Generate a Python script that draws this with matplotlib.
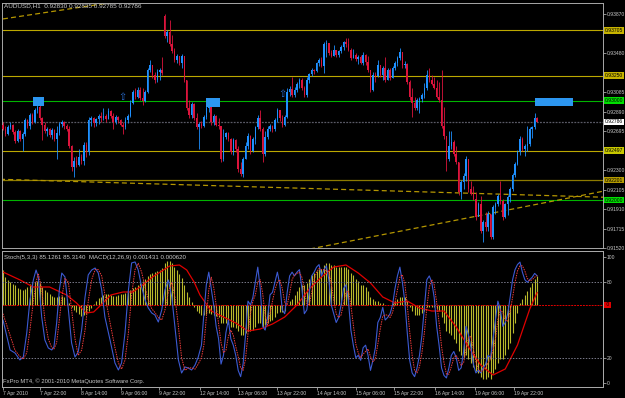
import numpy as np
import matplotlib.pyplot as plt
from matplotlib.patches import Rectangle
from matplotlib.transforms import blended_transform_factory

plt.rcParams['font.family'] = ['Liberation Sans', 'DejaVu Sans']

# AUDUSD H1, bar 0 = 7 Apr 2010 07:00
close = [
    0.9271, 0.9266, 0.9273, 0.9276, 0.9268, 0.9259, 0.9269, 0.9261, 0.9266, 0.9281,
    0.9274, 0.9286, 0.9279, 0.9291, 0.9294, 0.9283, 0.9276, 0.9269, 0.9271, 0.9265,
    0.9270, 0.9261, 0.9267, 0.9277, 0.9279, 0.9274, 0.9271, 0.9254, 0.9233, 0.9239,
    0.9235, 0.9243, 0.9239, 0.9255, 0.9248, 0.9281, 0.9283, 0.9278, 0.9282, 0.9285,
    0.9283, 0.9285, 0.9282, 0.9290, 0.9285, 0.9279, 0.9284, 0.9281, 0.9276, 0.9273,
    0.9281, 0.9285, 0.9298, 0.9309, 0.9304, 0.9311, 0.9303, 0.9300, 0.9309, 0.9331,
    0.9336, 0.9326, 0.9321, 0.9329, 0.9331, 0.9328, 0.9365, 0.9369, 0.9357, 0.9350,
    0.9341, 0.9345, 0.9338, 0.9345, 0.9321, 0.9293, 0.9286, 0.9297, 0.9283, 0.9273,
    0.9277, 0.9274, 0.9284, 0.9293, 0.9297, 0.9279, 0.9285, 0.9276, 0.9274, 0.9241,
    0.9263, 0.9267, 0.9261, 0.9248, 0.9260, 0.9251, 0.9231, 0.9226, 0.9241, 0.9254,
    0.9264, 0.9249, 0.9261, 0.9273, 0.9283, 0.9271, 0.9246, 0.9263, 0.9271, 0.9275,
    0.9271, 0.9281, 0.9291, 0.9283, 0.9276, 0.9284, 0.9309, 0.9312, 0.9306, 0.9311,
    0.9317, 0.9321, 0.9313, 0.9306, 0.9321, 0.9327, 0.9331, 0.9330, 0.9338, 0.9341,
    0.9335, 0.9357, 0.9358, 0.9348, 0.9345, 0.9351, 0.9346, 0.9350, 0.9354, 0.9359,
    0.9357, 0.9351, 0.9343, 0.9346, 0.9342, 0.9344, 0.9338, 0.9346, 0.9339, 0.9331,
    0.9311, 0.9326, 0.9325, 0.9336, 0.9326, 0.9333, 0.9321, 0.9331, 0.9323, 0.9333,
    0.9338, 0.9343, 0.9349, 0.9336, 0.9337, 0.9319, 0.9304, 0.9298, 0.9293, 0.9301,
    0.9302, 0.9306, 0.9313, 0.9326, 0.9321, 0.9317, 0.9313, 0.9304, 0.9301, 0.9274,
    0.9264, 0.9241, 0.9254, 0.9258, 0.9246, 0.9238, 0.9208, 0.9218, 0.9224, 0.9241,
    0.9211, 0.9206, 0.9201, 0.9183, 0.9196, 0.9169, 0.9178, 0.9173, 0.9186, 0.9163,
    0.9193, 0.9196, 0.9204, 0.9199, 0.9183, 0.9196, 0.9203, 0.9211, 0.9225, 0.9236,
    0.9248, 0.9261, 0.9251, 0.9254, 0.9256, 0.9271, 0.9273, 0.92830, 0.92786,
]
high = [
    0.9279, 0.9274, 0.9276, 0.9279, 0.9277, 0.9270, 0.9271, 0.9270, 0.9268, 0.9283,
    0.9282, 0.9288, 0.9288, 0.9293, 0.9296, 0.9296, 0.9284, 0.9279, 0.9273, 0.9272,
    0.9272, 0.9271, 0.9275, 0.9279, 0.9281, 0.9280, 0.9277, 0.9274, 0.9255, 0.9243,
    0.9244, 0.9251, 0.9246, 0.9258, 0.9258, 0.9284, 0.9285, 0.9284, 0.9283, 0.9287,
    0.9289, 0.9293, 0.9287, 0.9293, 0.9291, 0.9288, 0.9286, 0.9285, 0.9282, 0.9279,
    0.9284, 0.9287, 0.9301, 0.9311, 0.9313, 0.9314, 0.9314, 0.9313, 0.9311, 0.9333,
    0.9341, 0.9331, 0.9329, 0.9332, 0.9333, 0.9344, 0.9387, 0.9371, 0.9381, 0.9366,
    0.9353, 0.9347, 0.9344, 0.9347, 0.9345, 0.9321, 0.9301, 0.9299, 0.9298, 0.9288,
    0.9279, 0.9280, 0.9286, 0.9295, 0.9298, 0.9298, 0.9287, 0.9286, 0.9283, 0.9275,
    0.9271, 0.9268, 0.9268, 0.9262, 0.9262, 0.9261, 0.9254, 0.9238, 0.9243, 0.9258,
    0.9267, 0.9265, 0.9263, 0.9275, 0.9286, 0.9291, 0.9273, 0.9269, 0.9274, 0.9277,
    0.9276, 0.9283, 0.9293, 0.9291, 0.9286, 0.9286, 0.9313, 0.9315, 0.9324, 0.9314,
    0.9319, 0.9323, 0.9323, 0.9315, 0.9324, 0.9328, 0.9333, 0.9332, 0.9339, 0.9343,
    0.9344, 0.9359, 0.9361, 0.9358, 0.9351, 0.9356, 0.9351, 0.9351, 0.9356, 0.9360,
    0.9363, 0.9363, 0.9353, 0.9352, 0.9348, 0.9346, 0.9346, 0.9349, 0.9347, 0.9345,
    0.9331, 0.9329, 0.9329, 0.9341, 0.9336, 0.9335, 0.9344, 0.9333, 0.9333, 0.9335,
    0.9340, 0.9345, 0.9353, 0.9349, 0.9340, 0.9338, 0.9321, 0.9313, 0.9304, 0.9303,
    0.9304, 0.9308, 0.9318, 0.9331, 0.9333, 0.9326, 0.9324, 0.9321, 0.9319, 0.9331,
    0.9294, 0.9264, 0.9269, 0.9269, 0.9260, 0.9254, 0.9238, 0.9220, 0.9227, 0.9244,
    0.9241, 0.9219, 0.9214, 0.9208, 0.9198, 0.9204, 0.9180, 0.9188, 0.9189, 0.9186,
    0.9195, 0.9198, 0.9206, 0.9219, 0.9201, 0.9197, 0.9205, 0.9213, 0.9227, 0.9238,
    0.9250, 0.9264, 0.9263, 0.9256, 0.9274, 0.9273, 0.9275, 0.9288, 0.92835,
]
low = [
    0.9270, 0.9264, 0.9265, 0.9271, 0.9266, 0.9257, 0.9258, 0.9259, 0.9249, 0.9264,
    0.9272, 0.9271, 0.9277, 0.9278, 0.9288, 0.9281, 0.9260, 0.9267, 0.9264, 0.9263,
    0.9261, 0.9259, 0.9241, 0.9265, 0.9273, 0.9271, 0.9269, 0.9252, 0.9229, 0.9223,
    0.9233, 0.9234, 0.9236, 0.9235, 0.9243, 0.9245, 0.9275, 0.9273, 0.9274, 0.9277,
    0.9279, 0.9281, 0.9279, 0.9282, 0.9283, 0.9271, 0.9277, 0.9278, 0.9274, 0.9266,
    0.9271, 0.9278, 0.9284, 0.9297, 0.9302, 0.9303, 0.9301, 0.9296, 0.9299, 0.9308,
    0.9329, 0.9323, 0.9318, 0.9319, 0.9321, 0.9326, 0.9363, 0.9359, 0.9355, 0.9348,
    0.9339, 0.9338, 0.9336, 0.9333, 0.9319, 0.9291, 0.9283, 0.9283, 0.9281, 0.9271,
    0.9251, 0.9272, 0.9273, 0.9282, 0.9289, 0.9276, 0.9276, 0.9274, 0.9271, 0.9238,
    0.9239, 0.9261, 0.9259, 0.9246, 0.9245, 0.9248, 0.9228, 0.9224, 0.9223, 0.9241,
    0.9251, 0.9246, 0.9248, 0.9256, 0.9271, 0.9269, 0.9238, 0.9244, 0.9261, 0.9269,
    0.9268, 0.9269, 0.9279, 0.9280, 0.9273, 0.9275, 0.9283, 0.9305, 0.9304, 0.9304,
    0.9309, 0.9313, 0.9311, 0.9304, 0.9304, 0.9318, 0.9325, 0.9327, 0.9329, 0.9335,
    0.9334, 0.9328, 0.9344, 0.9346, 0.9344, 0.9345, 0.9344, 0.9344, 0.9348, 0.9351,
    0.9354, 0.9350, 0.9341, 0.9343, 0.9340, 0.9337, 0.9337, 0.9336, 0.9336, 0.9329,
    0.9309, 0.9310, 0.9319, 0.9324, 0.9324, 0.9321, 0.9319, 0.9321, 0.9321, 0.9323,
    0.9331, 0.9335, 0.9341, 0.9333, 0.9333, 0.9317, 0.9301, 0.9284, 0.9291, 0.9291,
    0.9288, 0.9299, 0.9303, 0.9311, 0.9319, 0.9316, 0.9312, 0.9303, 0.9299, 0.9272,
    0.9261, 0.9229, 0.9239, 0.9251, 0.9244, 0.9236, 0.9205, 0.9201, 0.9211, 0.9219,
    0.9208, 0.9205, 0.9200, 0.9180, 0.9186, 0.9167, 0.9158, 0.9169, 0.9169, 0.9161,
    0.9161, 0.9186, 0.9194, 0.9196, 0.9180, 0.9182, 0.9185, 0.9198, 0.9209, 0.9223,
    0.9235, 0.9245, 0.9249, 0.9244, 0.9249, 0.9254, 0.9262, 0.9271, 0.92785,
]
first_open = 0.9276
gap_bar, gap_open = 66, 0.9385      # monday 12 Apr open

# MACD(12,26,9) main (histogram), one value per bar
macd_main = [
    0.00175, 0.0014, 0.00125, 0.00115, 0.00105, 0.0010, 0.00085, 0.0008, 0.00075, 0.0008,
    0.0009, 0.00105, 0.0011, 0.00115, 0.0012, 0.0011, 0.0009, 0.00075, 0.00065, 0.00055,
    0.00045, 0.0004, 0.0004, 0.00045, 0.00045, 0.0004, 0.0003, 0.0001, -0.0001, -0.00025,
    -0.00035, -0.00045, -0.00055, -0.0005, -0.00045, -0.0003, -0.00015, 0.00005, 0.0002, 0.00035,
    0.0004, 0.0005, 0.00055, 0.00055, 0.0005, 0.00045, 0.00045, 0.0005, 0.00055, 0.00055,
    0.0006, 0.00065, 0.00075, 0.00085, 0.0009, 0.001, 0.0011, 0.0012, 0.0013, 0.00145,
    0.00155, 0.0016, 0.00165, 0.0017, 0.00175, 0.00185, 0.0021, 0.0022, 0.0022, 0.0021,
    0.0019, 0.00175, 0.00155, 0.00135, 0.001, 0.00065, 0.0004, 0.00015, -0.0001, -0.0003,
    -0.0004, -0.0005, -0.0005, -0.00045, -0.0004, -0.00045, -0.0005, -0.00055, -0.0006, -0.0009,
    -0.0009, -0.0009, -0.00095, -0.0011, -0.0011, -0.00115, -0.0013, -0.0015, -0.0015, -0.0014,
    -0.0013, -0.0013, -0.00125, -0.0011, -0.0009, -0.0009, -0.0011, -0.001, -0.0009, -0.0008,
    -0.00075, -0.0006, -0.0004, -0.00035, -0.00035, -0.0003, 0.0, 0.0002, 0.0003, 0.0005,
    0.0007, 0.0009, 0.001, 0.001, 0.0011, 0.0013, 0.0015, 0.0016, 0.0017, 0.0018,
    0.0018, 0.002, 0.0021, 0.0021, 0.002, 0.002, 0.0019, 0.0019, 0.0019, 0.0019,
    0.0019, 0.0018, 0.0016, 0.0015, 0.0013, 0.0012, 0.001, 0.001, 0.0009, 0.0007,
    0.0004, 0.0003, 0.0002, 0.0002, 0.0001, 0.0001, 0.0, 0.0, 0.0, 0.0001,
    0.0002, 0.0003, 0.0004, 0.0004, 0.0004, 0.0002, -0.0001, -0.0003, -0.0005, -0.0005,
    -0.0005, -0.0004, -0.0003, -0.0001, -0.0001, -0.0001, -0.0001, -0.0002, -0.0003, -0.0006,
    -0.0009, -0.0013, -0.0014, -0.0015, -0.0017, -0.0019, -0.0023, -0.0025, -0.0026, -0.0025,
    -0.0027, -0.0029, -0.0031, -0.0033, -0.0034, -0.0036, -0.0037, -0.0037, -0.0036, -0.0037,
    -0.0034, -0.0032, -0.0029, -0.0027, -0.0027, -0.0025, -0.0022, -0.0019, -0.0014, -0.0009,
    -0.0004, 0.0001, 0.0003, 0.0005, 0.0007, 0.0009, 0.0011, 0.0013, 0.001431,
]
signal_bar = [0, 7, 12.3, 19, 26, 30, 34, 37, 40, 44, 49, 53, 57, 61, 65.5, 68, 72, 75, 78,
              80.4, 85, 90, 95, 100, 105, 110, 115, 120, 125, 130, 135, 140, 145, 150, 155,
              160, 165, 170, 175, 180, 185, 190, 195, 200, 205, 210, 215, 218]
macd_signal = [0.00165, 0.00125, 0.0009, 0.0009, 0.0005, 0.0001, -0.0004, -0.00035, 0.0,
               0.0005, 0.00065, 0.00065, 0.001, 0.0014, 0.00175, 0.00195, 0.002, 0.00175,
               0.00115, 0.0005, -0.0003, -0.0006, -0.0009, -0.0013, -0.0012, -0.00095,
               -0.0006, 0.0, 0.0008, 0.0014, 0.0019, 0.002, 0.0016, 0.0011, 0.0004, 0.0001,
               0.0002, -0.00015, -0.0003, -0.0003, -0.0011, -0.0021, -0.003, -0.0035,
               -0.0032, -0.002, -0.0002, 0.00062]

# Stoch(5,3,3): main (blue) and signal (red dotted)
stoch_bar = [0, 2.9, 4.9, 6.9, 8.3, 9.7, 11, 12.4, 13.5, 14.4, 15.8, 17.1, 18.5, 19.9, 20.8,
             21.9, 23, 24, 25.3, 26.7, 28, 29.4, 30.7, 32.1, 33.5, 34.8, 36.2, 37.6, 38.9,
             40.3, 41.6, 43.7, 45.7, 47.1, 48.4, 49.8, 51.2, 52.5, 53.9, 55.2, 56.6, 58,
             59.3, 60.7, 62, 63.4, 64.8, 66.1, 67.5, 68.9, 70.2, 71.6, 72.9, 74.3, 75.6,
             77, 78.4, 79.7] + list(range(81, 219))
stoch_main = [
    50, 26.2, 23.8, 18.3, 20.6, 39.7, 65.9, 81.8, 89.7, 84.2, 52.4, 34.1, 27.8, 26.2,
    28.6, 47.6, 73.8, 87.3, 84.2, 58, 31.8, 20.6, 24.6, 42.1, 68.3, 85.8, 89.7, 91.3,
    87.3, 73.8, 52.4, 34.1, 15.9, 10.3, 15.9, 39.7, 73.8, 95.3, 96.1, 89.7, 76.2,
    65.9, 59.6, 55.6, 54, 48.4, 58, 73.8, 81.8, 68.3, 44.5, 18.3, 7.9, 12.7, 11.9,
    10.3, 14.3, 20.6,
    30, 55, 78, 88, 75, 62, 45, 35, 15, 22,
    40, 50, 35, 30, 22, 10, 5, 15, 38, 65,
    62, 68, 80, 92, 75, 45, 42, 52, 70, 72,
    80, 88, 78, 58, 55, 72, 85, 88, 85, 88,
    90, 75, 55, 58, 72, 85, 88, 92, 94, 85,
    90, 93, 82, 62, 55, 48, 52, 62, 75, 78,
    65, 42, 30, 20, 22, 18, 28, 30, 22, 10,
    18, 28, 48, 52, 60, 50, 52, 55, 62, 75,
    85, 92, 80, 65, 40, 18, 8, 5, 12, 22,
    38, 60, 82, 85, 80, 68, 45, 30, 12, 6,
    4, 12, 22, 25, 20, 10, 12, 25, 45, 38,
    28, 15, 8, 10, 8, 12, 15, 22, 20, 35,
    50, 65, 58, 45, 48, 55, 68, 82, 90, 94,
    96, 88, 82, 80, 82, 84, 87, 85.1261,
]
stoch_signal = [
    55, 38, 26, 21, 19, 24, 42, 65, 80, 87, 75, 50, 35, 28,
    27, 32, 50, 68, 83, 80, 58, 35, 22, 26, 42, 65, 82, 90,
    90, 85, 70, 48, 28, 16, 11, 18, 40, 70, 90, 95, 88,
    76, 66, 59, 56, 52, 50, 58, 72, 80, 68, 45, 20, 10, 12,
    12, 11, 15,
    20, 30, 52, 74, 84, 76, 62, 47, 32, 24,
    26, 37, 42, 38, 29, 21, 12, 10, 19, 39,
    55, 65, 70, 80, 82, 71, 54, 46, 55, 65,
    74, 80, 82, 75, 64, 62, 71, 82, 86, 87,
    88, 84, 73, 63, 62, 72, 82, 88, 91, 90,
    90, 89, 88, 79, 66, 55, 52, 54, 63, 72,
    73, 62, 46, 31, 24, 20, 23, 25, 27, 21,
    17, 19, 31, 43, 53, 54, 54, 52, 56, 64,
    74, 84, 86, 79, 62, 41, 22, 10, 8, 13,
    24, 40, 60, 76, 82, 78, 64, 48, 29, 16,
    7, 7, 13, 20, 22, 18, 14, 16, 27, 36,
    37, 27, 17, 11, 9, 10, 12, 16, 19, 26,
    35, 50, 58, 56, 50, 49, 57, 68, 80, 89,
    93, 93, 89, 83, 81, 82, 84, 85.3140,
]

# chart objects
yellow_levels = [0.93705, 0.93250, 0.92497]
dark_level = 0.92201
green_levels = [0.93000, 0.92000]
bid = 0.92786
trend_lines = [([0, 45.7], [0.9382, 0.9399]),
               ([-1.2, 244.9], [0.9221, 0.9203]),
               ([125.3, 244.9], [0.9151, 0.9209])]
boxes = [(12.3, 0.9295, 4.4, 0.0009), (82.9, 0.9294, 5.7, 0.0009), (217.1, 0.9295, 15.6, 0.0008)]
arrows = [(48.6, 0.9304), (113.9, 0.9307)]

price_ticks = [0.93870, 0.93675, 0.93480, 0.93285, 0.93085, 0.92890, 0.92695, 0.92495,
               0.92300, 0.92105, 0.91910, 0.91715, 0.91520]
hidden_ticks = [0.93675, 0.93285, 0.92495]     # covered by the level tags
time_bars = [0, 15, 32, 48, 63.5, 80.5, 96, 112, 128, 144, 159.5, 176.5, 192.5, 208.5]
time_labels = ['7 Apr 2010', '7 Apr 22:00', '8 Apr 14:00', '9 Apr 06:00', '9 Apr 22:00',
               '12 Apr 14:00', '13 Apr 06:00', '13 Apr 22:00', '14 Apr 14:00', '15 Apr 06:00',
               '15 Apr 22:00', '16 Apr 14:00', '19 Apr 06:00', '19 Apr 22:00']

bull, bear = '#1E90FF', '#DC143C'
txt = '#C8C8C8'
frame = '#A8A8A8'
lab_size = 3.6

W, H = 625, 398
fig = plt.figure(figsize=(W / 100, H / 100), dpi=100, facecolor='black')


def px_box(l, t, r, b):
    return [l / W, 1 - b / H, (r - l) / W, (b - t) / H]


ax = fig.add_axes(px_box(2, 3, 603, 248))
axm = fig.add_axes(px_box(2, 251, 603, 387))
axs = axm.twinx()
for a in (ax, axm, axs):
    for s in a.spines.values():
        s.set_color(frame)
        s.set_linewidth(0.7)
ax.set_facecolor('black')
axm.set_facecolor('black')
axs.patch.set_visible(False)

# --- price panel
c = np.array(close)
hi = np.array(high)
lo = np.array(low)
o = np.r_[first_open, c[:-1]]
o[gap_bar] = gap_open
x = np.arange(len(c))
col = np.where(c >= o, bull, bear)

for p in yellow_levels:
    ax.axhline(p, color='#BCA800', lw=0.8, zorder=1)
ax.axhline(dark_level, color='#8C7A00', lw=0.9, zorder=1)
for p in green_levels:
    ax.axhline(p, color='#00B400', lw=0.8, zorder=1)
ax.axhline(bid, color='#5A5A66', lw=0.9, ls=(0, (1.5, 1)), zorder=1)
for tx, ty in trend_lines:
    ax.plot(tx, ty, color='#B49600', lw=0.9, dashes=(4, 2.5), zorder=1)

ax.vlines(x, lo, hi, colors=col, lw=0.6, zorder=3)
ax.bar(x, np.maximum(np.abs(c - o), 0.00004), bottom=np.minimum(o, c), width=0.62,
       color=col, linewidth=0, zorder=4)

for bx, by, bw, bh in boxes:
    ax.add_patch(Rectangle((bx, by), bw, bh, facecolor='#2C96F0', edgecolor='none', zorder=5))
for axx, ayy in arrows:
    ax.text(axx, ayy, '\u21e7', color='#2A6ED2', fontsize=7, ha='center', va='center',
            family='DejaVu Sans', zorder=5)

ax.set_xlim(-0.4, 244.9)
ax.set_ylim(0.91520, 0.93980)
ax.set_xticks([])
ax.yaxis.tick_right()
ax.set_yticks(price_ticks)
ax.set_yticklabels(['' if p in hidden_ticks else f'{p:.5f}' for p in price_ticks])
ax.tick_params(axis='y', colors=txt, labelsize=lab_size, length=2, pad=0.5, width=0.5)

tr = blended_transform_factory(ax.transAxes, ax.transData)
tags = [(0.93705, '#C8B400'), (0.93250, '#C8B400'), (0.93000, '#00E000'), (bid, '#FFFFFF'),
        (0.92497, '#C8C800'), (0.92201, '#B49B00'), (0.92000, '#00E000')]
for p, fc in tags:
    ax.text(1.003, p, f'{p:.5f}', transform=tr, fontsize=lab_size, color='black', ha='left',
            va='center', clip_on=False, zorder=6,
            bbox=dict(boxstyle='square,pad=0.15', fc=fc, ec='none'))

# --- indicator panel
axm.vlines(x[:len(macd_main)], 0, macd_main, colors='#B9B92C', lw=0.8)
axm.plot(signal_bar, macd_signal, color='#E00000', lw=0.9)
axm.axhline(0, color='#E00000', lw=0.7, ls=(0, (2, 1)))
axm.set_ylim(-0.0041, 0.0027)
axm.set_xlim(-0.4, 244.9)
axm.set_yticks([])
axm.set_xticks(time_bars)
axm.set_xticklabels(time_labels, ha='left')
axm.tick_params(axis='x', colors=txt, labelsize=3.7, length=2, pad=1, width=0.5)
trm = blended_transform_factory(axm.transAxes, axm.transData)
axm.text(1.003, 0, ' 0 ', transform=trm, fontsize=lab_size, color='black', ha='left',
         va='center', clip_on=False,
         bbox=dict(boxstyle='square,pad=0.1', fc='#E00000', ec='none'))

for lv in (80, 20):
    axs.axhline(lv, color='#7A7A8A', lw=0.7, ls=(0, (1.5, 1.5)))
axs.plot(stoch_bar, stoch_main, color='#3C5AD2', lw=0.8)
axs.plot(stoch_bar, stoch_signal, color='#F03C3C', lw=0.7, ls=(0, (1.5, 1)))
axs.set_ylim(-3.2, 104.8)
axs.set_yticks([0, 20, 80, 100])
axs.set_yticklabels(['0', '20', '80', '100'])
axs.tick_params(axis='y', colors=txt, labelsize=lab_size, length=2, pad=0.5, width=0.5)

fig.text(4 / W, 1 - 6 / H, 'AUDUSD,H1  0.92830 0.92835 0.92785 0.92786', color=txt,
         fontsize=4.6, va='center', ha='left')
fig.text(4 / W, 1 - 258 / H, 'Stoch(5,3,3) 85.1261 85.3140  MACD(12,26,9) 0.001431 0.000620',
         color=txt, fontsize=4.4, va='center', ha='left')
fig.text(3 / W, 1 - 381 / H, 'FxPro MT4, \u00a9 2001-2010 MetaQuotes Software Corp.', color=txt,
         fontsize=4.2, va='center', ha='left')

fig.savefig('out.png', dpi=100, facecolor='black')
